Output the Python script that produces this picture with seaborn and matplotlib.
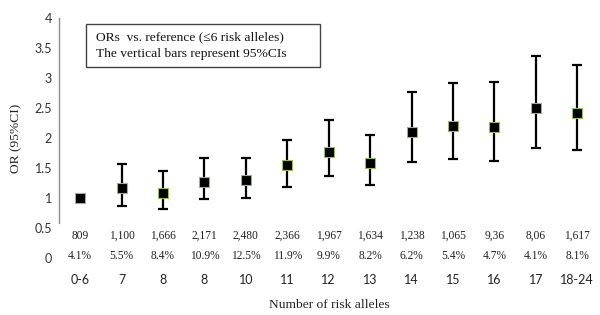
import matplotlib
matplotlib.use("Agg")
import matplotlib.pyplot as plt
import seaborn as sns
import pandas as pd
import numpy as np
from matplotlib.patches import Rectangle

categories = ['0-6', '7', '8', '8', '10', '11', '12', '13', '14', '15', '16', '17', '18-24']
or_vals = [1.00, 1.17, 1.09, 1.28, 1.30, 1.55, 1.78, 1.59, 2.11, 2.21, 2.19, 2.50, 2.42]
ci_low = [1.00, 0.88, 0.83, 0.99, 1.01, 1.19, 1.37, 1.22, 1.61, 1.66, 1.63, 1.84, 1.81]
ci_high = [1.00, 1.57, 1.46, 1.67, 1.68, 1.98, 2.30, 2.06, 2.78, 2.92, 2.94, 3.38, 3.23]
counts = ['809', '1,100', '1,666', '2,171', '2,480', '2,366', '1,967', '1,634', '1,238', '1,065', '9,36', '8,06', '1,617']
pcts = ['4.1%', '5.5%', '8.4%', '10.9%', '12.5%', '11.9%', '9.9%', '8.2%', '6.2%', '5.4%', '4.7%', '4.1%', '8.1%']
yticks = [0, 0.5, 1, 1.5, 2, 2.5, 3, 3.5, 4]

sns.set_theme(style="white")
plt.rcParams['font.family'] = ['Liberation Serif', 'DejaVu Serif']

df = pd.DataFrame({"pos": np.arange(len(categories)), "cat": categories, "OR": or_vals,
                   "lo": ci_low, "hi": ci_high})

fig = plt.figure(figsize=(6, 3.15), dpi=100)
W, H = 600, 315
ax = fig.add_axes([59 / W, (H - 258.3) / H, (600 - 59) / W, 240 / H])

# error bars (skip reference category with zero-width CI)
m = df["hi"] > df["lo"]
ax.errorbar(df.loc[m, "pos"], df.loc[m, "OR"],
            yerr=[df.loc[m, "OR"] - df.loc[m, "lo"], df.loc[m, "hi"] - df.loc[m, "OR"]],
            fmt="none", ecolor="black", elinewidth=1.6, capsize=3.8, capthick=1.6, zorder=2)
sns.scatterplot(data=df, x="pos", y="OR", marker="s", s=60, color="black",
                edgecolor="#9bbb59", linewidth=0.8, ax=ax, zorder=3, legend=False)

ax.set_xlim(-0.51, 12.55)
ax.set_ylim(0, 4)
ax.set_yticks(yticks)
ax.set_yticklabels([f"{v:g}" for v in yticks], family=['Lato', 'DejaVu Sans'], fontsize=9, color="#333333")
ax.set_xticks(df["pos"])
ax.set_xticklabels(categories, family=['Lato', 'DejaVu Sans'], fontsize=9, color="#222222")
ax.tick_params(axis="x", length=0, pad=11)
ax.tick_params(axis="y", length=0, pad=5)

for s in ["top", "right", "bottom"]:
    ax.spines[s].set_visible(False)
ax.spines["left"].set_color("#8c8c8c")
ax.spines["left"].set_linewidth(1.0)
ax.spines["left"].set_bounds(0.59, 4)

for i in range(len(categories)):
    ax.text(i, 0.37, counts[i], ha="center", va="center", fontsize=8.3, color="#222222")
    ax.text(i, 0.04, pcts[i], ha="center", va="center", fontsize=8.3, color="#222222")

ax.set_xlabel("Number of risk alleles", fontsize=9.7, labelpad=10, color="#222222")
ax.set_ylabel("OR (95%CI)", fontsize=9.7, labelpad=9, color="#222222")

# note box
fig.patches.append(Rectangle((86 / W, 1 - 67 / H), (320 - 86) / W, (67 - 24) / H,
                             transform=fig.transFigure, fill=False, edgecolor="#444444", linewidth=1.0))
fig.text(96 / W, 1 - 37 / H, "ORs  vs. reference (\u22646 risk alleles)", fontsize=9.7,
         va="center", ha="left", color="#111111")
fig.text(96 / W, 1 - 54 / H, "The vertical bars represent 95%CIs", fontsize=9.7,
         va="center", ha="left", color="#111111")

fig.savefig("out.png", dpi=100, facecolor="white")
